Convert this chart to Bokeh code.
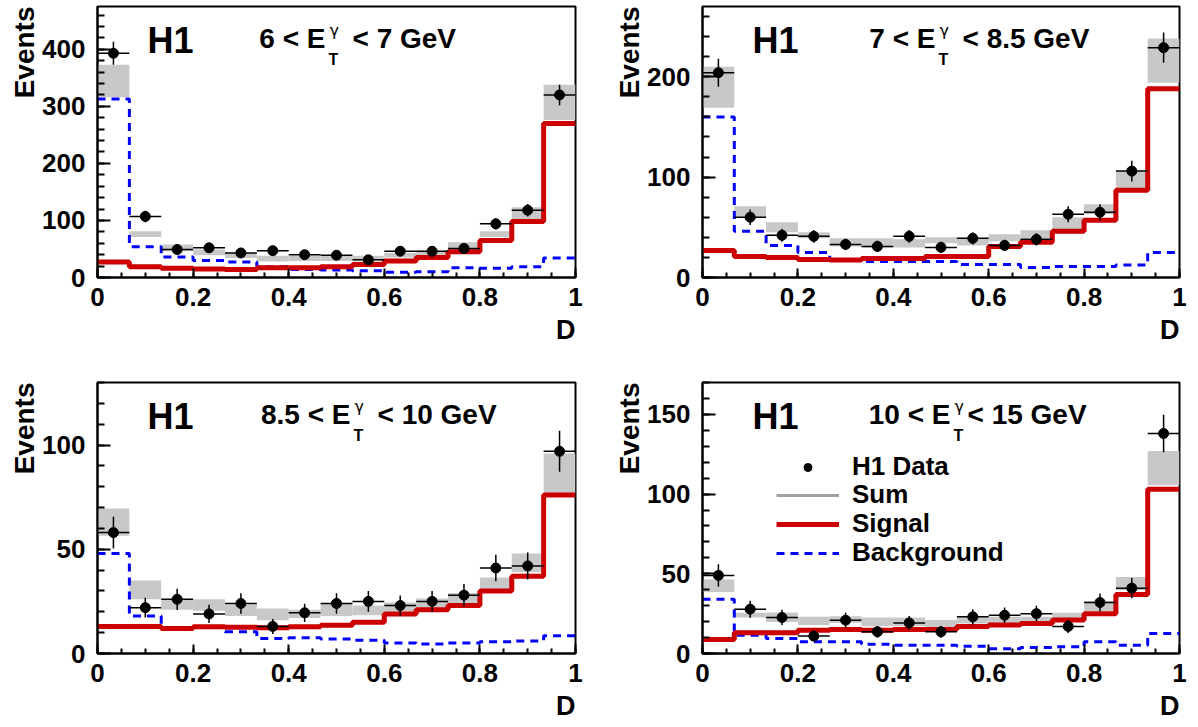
import numpy as np
from bokeh.plotting import figure
from bokeh.models import FixedTicker, Label, Title, Legend, LegendItem
from bokeh.layouts import column, row
from bokeh.embed import file_html
from bokeh.resources import INLINE

# ---------------- data ----------------
edges = np.linspace(0.0, 1.0, 16)          # 15 bins in D

data1 = [393, 107, 49, 52, 43, 47, 40, 39, 31, 46, 46, 51, 94, 118, 320]
err1 = [20, 10, 7, 7, 6.5, 7, 6.3, 6.2, 5.6, 6.8, 6.8, 7.1, 9.7, 11, 18]
sig1 = [27, 19, 16, 15, 14, 17, 17, 19, 23, 29, 35, 45, 65, 98, 270]
bkg1 = [313, 54, 36, 30, 27, 19, 14, 13, 12, 9, 10, 17, 16, 19, 34]
lo1 = [316, 71, 46, 39, 34, 28, 29, 29, 28, 35, 38, 49, 71, 101, 276]
hi1 = [373, 81, 58, 49, 43, 38, 38, 38, 38, 43, 47, 62, 81, 123, 338]

data2 = [204, 60, 42, 41, 33, 31, 41, 30, 39, 32, 38, 63, 65, 106, 229]
err2 = [14, 7.7, 6.5, 6.4, 5.7, 5.6, 6.4, 5.5, 6.2, 5.7, 6.2, 7.9, 8, 10.3, 15]
sig2 = [27, 21, 20, 18, 17.5, 19, 19, 21, 21, 31, 35, 46, 57, 87, 188]
bkg2 = [160, 46, 32, 25, 18, 16, 16, 16, 13, 13, 10, 11, 11, 12.5, 25]
lo2 = [169, 60, 45, 39, 31, 30, 30, 34, 32, 36, 39, 48, 63, 89, 194]
hi2 = [210, 71, 55, 45, 39, 39, 38, 40, 39, 43, 47, 60, 73, 106, 238]

data3 = [58, 22, 26, 19, 24, 13, 19.5, 24, 25, 23, 25, 28, 41, 42, 97]
err3 = [7.6, 4.7, 5.1, 4.4, 4.9, 3.6, 4.4, 4.9, 5, 4.8, 5, 5.3, 6.4, 6.5, 9.8]
sig3 = [13, 13, 12, 12.8, 12.6, 12.3, 12.8, 13.6, 15, 19, 21, 23, 30, 37, 76]
bkg3 = [48, 18, 12, 13, 10.4, 7.2, 7.5, 7, 6.4, 5, 4.5, 5, 5.6, 6, 8.5]
lo3 = [56.5, 26, 21, 20.5, 18, 16, 17, 18, 18.4, 20, 21.6, 24, 30.4, 39, 77]
hi3 = [69.6, 35, 26, 26, 23.5, 21.6, 21, 24, 23, 24.5, 26.4, 29, 36.5, 48, 96]

data4 = [49, 27.8, 22.6, 10.9, 20.9, 13.6, 19.2, 13.6, 23, 24, 25, 17, 32, 41, 138]
err4 = [7, 5.3, 4.8, 3.3, 4.6, 3.7, 4.4, 3.7, 4.8, 4.9, 5, 4.1, 5.7, 6.4, 11.7]
sig4 = [8.8, 13, 13, 14.6, 15, 14.6, 15, 15, 17, 17.8, 18.8, 21, 25, 37, 103]
bkg4 = [34, 11.5, 9.4, 7.3, 7.3, 5.8, 5.2, 5.2, 4.6, 3, 3.8, 4.2, 7.3, 5.2, 12.5]
lo4 = [38.6, 22.6, 19.8, 17.8, 19.2, 17.1, 17.1, 16.7, 18.8, 18.4, 18.8, 19.8, 26.7, 39.7, 105.5]
hi4 = [46.4, 25.5, 25.7, 23, 23.4, 22.6, 22.6, 21, 23.4, 23, 23, 25.5, 33, 48, 127]

ranges = [(0, 475), (0, 270), (0, 130), (0, 170)]
major_y = [[0, 100, 200, 300, 400], [0, 100, 200], [0, 50, 100], [0, 50, 100, 150]]
minor_step = [20, 20, 10, 10]
x_major = [0, 0.2, 0.4, 0.6, 0.8, 1.0]
x_minor = [round(0.05 * i, 2) for i in range(21)]
title_left = ["6 < E", "7 < E", "8.5 < E", "10 < E"]
title_right = ["< 7 GeV", "< 8.5 GeV", "< 10 GeV", "< 15 GeV"]
legend_labels = ["H1 Data", "Sum", "Signal", "Background"]

# ---------------- style ----------------
FONT = "Liberation Sans"
GRAY = "#c8c8c8"
RED = "#cc0000"
BLUE = "#0000ff"
FH = 271
e_end = [228, 233, 253, 248]
right_x = [255, 260, 280, 265]
legend_y = [171, 143, 114, 85]


def panel(idx, data, err, sig, bkg, lo, hi, width, height, bl, br, bt, bb, legend=False):
    p = figure(width=width, height=height, x_range=(0, 1), y_range=ranges[idx],
               output_backend="svg", toolbar_location=None,
               min_border_left=bl, min_border_right=br,
               min_border_top=bt, min_border_bottom=bb)
    p.outline_line_color = "black"
    p.outline_line_width = 2
    p.xgrid.visible = False
    p.ygrid.visible = False
    p.background_fill_color = "white"
    p.border_fill_color = "white"

    left = edges[:-1]
    right = edges[1:]
    centers = (left + right) / 2
    d = np.array(data, float)
    e = np.array(err, float)

    p.quad(left=left, right=right, bottom=lo, top=hi, fill_color=GRAY, line_color=None)
    xs = list(edges)
    sum_mid = [(a + b) / 2 for a, b in zip(lo, hi)]
    r_sum = p.step(x=xs, y=sum_mid + [sum_mid[-1]], mode="after",
                   line_color="#a0a0a0", line_width=3)
    r_sum.visible = False
    r_bkg = p.step(x=xs, y=list(bkg) + [bkg[-1]], mode="after",
                   line_color=BLUE, line_width=3, line_dash="8 6")
    r_sig = p.step(x=xs, y=list(sig) + [sig[-1]], mode="after",
                   line_color=RED, line_width=5)
    p.segment(x0=left, x1=right, y0=d, y1=d, line_color="black", line_width=1.5)
    p.segment(x0=centers, x1=centers, y0=d - e, y1=d + e, line_color="black", line_width=1.5)
    r_dat = p.scatter(x=centers, y=d, marker="circle", size=10,
                      fill_color="black", line_color="black")

    xa = p.xaxis[0]
    xa.ticker = FixedTicker(ticks=x_major, minor_ticks=x_minor)
    xa.major_label_overrides = {0: "0", 1: "1"}
    ya = p.yaxis[0]
    ymax = ranges[idx][1]
    ya.ticker = FixedTicker(ticks=major_y[idx],
                            minor_ticks=list(range(0, ymax + 1, minor_step[idx])))
    for ax, tin, mtin, so in ((xa, 9, 5, 10), (ya, 13, 7, 12)):
        ax.axis_line_width = 2
        ax.major_tick_line_width = 2
        ax.minor_tick_line_width = 2
        ax.major_tick_in = tin
        ax.major_tick_out = 0
        ax.minor_tick_in = mtin
        ax.minor_tick_out = 0
        ax.major_label_text_font = FONT
        ax.major_label_text_font_style = "bold"
        ax.major_label_text_font_size = "26px"
        ax.major_label_text_color = "black"
        ax.major_label_standoff = so

    p.add_layout(Title(text="Events", align="right", text_font=FONT, text_color="black",
                       text_font_style="bold", text_font_size="28px", standoff=0), "left")
    p.add_layout(Title(text="D", align="right", text_font=FONT, text_color="black",
                       text_font_style="bold", text_font_size="27px", standoff=9), "below")

    def lab(x, y, text, size, align="left", font=FONT, style="bold"):
        p.add_layout(Label(x=x, y=y, x_units="screen", y_units="screen", text=text,
                           text_font=font, text_font_style=style, text_font_size=size,
                           text_align=align, text_baseline="alphabetic", text_color="black"))

    lab(50, FH - 34, "H1", "36px")
    lab(e_end[idx], FH - 32, title_left[idx], "28px", "right")
    lab(e_end[idx] + 3, FH - 53, "T", "16px")
    lab(e_end[idx] + 4, FH - 24, "γ", "16px", font="DejaVu Sans", style="normal")
    lab(right_x[idx], FH - 32, title_right[idx], "28px")

    if legend:
        rends = [r_dat, r_sum, r_sig, r_bkg]
        for lbl, rend, ly in zip(legend_labels, rends, legend_y):
            lg = Legend(items=[LegendItem(label=lbl, renderers=[rend])],
                        location=(74, ly), border_line_color=None,
                        background_fill_alpha=0, label_text_font=FONT,
                        label_text_font_style="bold", label_text_font_size="26px",
                        label_text_color="black",
                        glyph_width=63, glyph_height=20, label_standoff=13,
                        spacing=0, padding=0, margin=0, label_height=29)
            p.add_layout(lg)
    return p


p1 = panel(0, data1, err1, sig1, bkg1, lo1, hi1, 598, 378, 97, 23, 6, 101)
p2 = panel(1, data2, err2, sig2, bkg2, lo2, hi2, 598, 378, 104, 17, 6, 101)
p3 = panel(2, data3, err3, sig3, bkg3, lo3, hi3, 598, 349, 97, 23, 4, 74)
p4 = panel(3, data4, err4, sig4, bkg4, lo4, hi4, 598, 349, 104, 17, 4, 74, legend=True)

layout = column(row(p1, p2), row(p3, p4))
open("out.html", "w").write(file_html(layout, INLINE))
